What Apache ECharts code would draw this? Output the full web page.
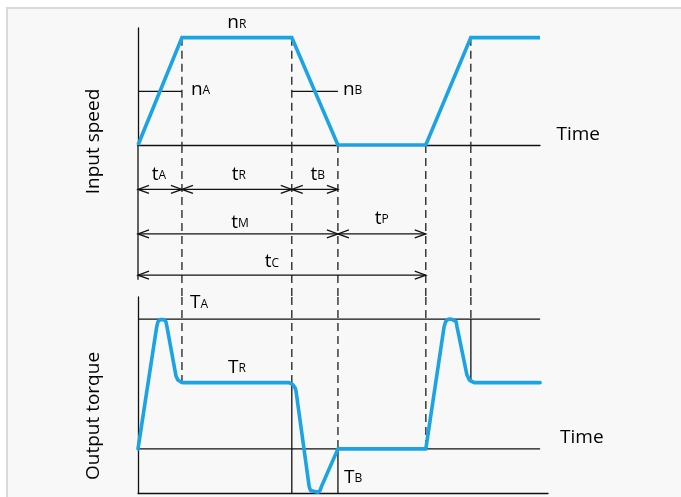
<!DOCTYPE html>
<html>
<head>
<meta charset="utf-8">
<script src="https://cdn.jsdelivr.net/npm/echarts@6/dist/echarts.min.js"></script>
<style>
html,body{margin:0;padding:0;background:#ffffff;}
#c{width:681px;height:497px;}
</style>
</head>
<body>
<div id="c"></div>
<script>
// ---------------- data ----------------
// input speed profile (time units, speed % of nR)
const speedTime  = [0, 2, 7, 9.1, 13.1, 15.15, 18.3];
const speedValue = [0, 100, 100, 0, 0, 100, 100];
const nA = 50, nB = 50;

// output torque profile (time units, torque % of TA)
const torqueTime  = [0, 0.85, 0.91, 1.0, 1.09, 1.18, 1.27, 1.32, 1.73, 1.82, 1.99, 2.1, 6.87, 7.03, 7.15, 7.19, 7.79, 7.85, 7.94, 8.19, 8.29, 8.35, 9.1, 13.1, 13.93, 14.0, 14.09, 14.2, 14.31, 14.48, 14.52, 14.97, 15.09, 15.3, 18.3];
const torqueValue = [0, 94, 98, 99.6, 100, 99.6, 98, 94, 56, 53, 51.2, 51, 51, 49.7, 47, 44.7, -29, -32, -33.5, -33.5, -32, -29, 0, 0, 94, 98, 99.6, 100, 99.6, 98, 94, 57, 53, 51, 51];
const TA = 100, TR = 51, TB = -34;

// time intervals (dimension arrows)
const dimMain  = ['t', 't', 't', 't', 't', 't'];
const dimSub   = ['A', 'R', 'B', 'M', 'P', 'C'];
const dimStart = [0, 2, 7, 0, 9.1, 0];
const dimEnd   = [2, 7, 9.1, 9.1, 13.1, 13.1];
const dimRow   = [1, 1, 1, 2, 2, 2.93];

// guide lines at phase boundaries
const guideTime = speedTime.slice(1, 6);
const guideTorqueDashTo  = [TR, TR, 0, 0, TA];
const guideTorqueSolidTo = [null, TB, TB, null, TR];

// axis ranges
const timeMax = 18.3, torqueTimeMax = 18.66;
const speedMax = 109;
const torqueMin = -34, torqueMax = 117;
const dimMax = 3.42, dimLeftEnd = 3.03;

// ---------------- style ----------------
const FONT = '"Open Sans", "Noto Sans", sans-serif';
const BLUE = '#1ba3e3', INK = '#111111', TXT = '#000000', DASHC = '#2e2e2e';
const MAIN = 19, SUB = 12, LW = 1.3, AL = 11, AH = 4, BASE_OFF = 2;

function seg(a, b, dashed) {
  return {type: 'line', silent: true,
    shape: {x1: a[0], y1: a[1], x2: b[0], y2: b[1]},
    style: {stroke: dashed ? DASHC : INK, lineWidth: dashed ? 1.4 : LW, lineDash: dashed ? [8, 5] : null}};
}
function poly(points) {
  return {type: 'polyline', silent: true, shape: {points: points},
    style: {stroke: INK, fill: null, lineWidth: LW}};
}
function txt(main, sub, x, baseline, align) {
  return {type: 'text', silent: true, style: {
    text: sub ? '{m|' + main + '}{s|' + sub + '}' : '{m|' + main + '}',
    x: x, y: baseline + BASE_OFF, align: align, verticalAlign: 'bottom', fill: TXT,
    rich: {
      m: {fontSize: MAIN, fontFamily: FONT, fill: TXT, verticalAlign: 'bottom'},
      s: {fontSize: SUB, fontFamily: FONT, fill: TXT, verticalAlign: 'bottom', padding: [0, 0, 2, 0]}
    }}};
}

function speedDecor(params, api) {
  const c = p => api.coord(p);
  const els = [];
  els.push(seg(c([0, nA]), c([speedTime[1], nA])));
  els.push(seg(c([speedTime[2], nB]), c([speedTime[3], nB])));
  for (let i = 1; i <= 5; i++) {
    if (speedValue[i] > 0) els.push(seg(c([speedTime[i], speedValue[i]]), c([speedTime[i], 0]), true));
  }
  const pR = c([(speedTime[1] + speedTime[2]) / 2, speedValue[1]]);
  els.push(txt('n', 'R', pR[0], pR[1] - 7.5, 'center'));
  const pA = c([speedTime[1], nA]);
  els.push(txt('n', 'A', pA[0] + 9, pA[1] + 5.5, 'left'));
  const pB = c([speedTime[3], nB]);
  els.push(txt('n', 'B', pB[0] + 5, pB[1] + 5.5, 'left'));
  const pT = c([speedTime[6], 0]);
  els.push(txt('Time', null, pT[0] + 16.5, pT[1] - 3, 'left'));
  return {type: 'group', children: els};
}

function dimDecor(params, api) {
  const c = p => api.coord(p);
  const els = [];
  els.push(seg(c([0, 0]), c([0, dimLeftEnd])));
  guideTime.forEach(t => els.push(seg(c([t, 0]), c([t, dimMax]), true)));
  for (let i = 0; i < dimStart.length; i++) {
    const a = c([dimStart[i], dimRow[i]]), b = c([dimEnd[i], dimRow[i]]);
    const y = a[1];
    els.push(seg(a, b));
    els.push(poly([[a[0] + AL, y - AH], [a[0], y], [a[0] + AL, y + AH]]));
    els.push(poly([[b[0] - AL, y - AH], [b[0], y], [b[0] - AL, y + AH]]));
    const mid = (a[0] + b[0]) / 2;
    const nudgeX = {A: -1, R: 2, B: 3, M: 2, P: 0, C: -10}[dimSub[i]];
    const nudgeY = {A: -7.5, R: -7.5, B: -7.5, M: -4, P: -8, C: -6}[dimSub[i]];
    els.push(txt(dimMain[i], dimSub[i], mid + nudgeX, y + nudgeY, 'center'));
  }
  return {type: 'group', children: els};
}

function torqueDecor(params, api) {
  const c = p => api.coord(p);
  const els = [];
  els.push(seg(c([0, TA]), c([timeMax, TA])));
  els.push(seg(c([0, 0]), c([timeMax, 0])));
  guideTime.forEach((t, i) => {
    els.push(seg(c([t, torqueMax]), c([t, guideTorqueDashTo[i]]), true));
    if (guideTorqueSolidTo[i] !== null) els.push(seg(c([t, guideTorqueDashTo[i]]), c([t, guideTorqueSolidTo[i]])));
  });
  const pA = c([guideTime[0], TA]);
  els.push(txt('T', 'A', pA[0] + 8, pA[1] - 8.5, 'left'));
  const pR = c([(guideTime[0] + guideTime[1]) / 2, TR]);
  els.push(txt('T', 'R', pR[0], pR[1] - 8, 'center'));
  const pB = c([guideTime[2], TB]);
  els.push(txt('T', 'B', pB[0] + 6, pB[1] - 8, 'left'));
  const pT = c([timeMax, 0]);
  els.push(txt('Time', null, pT[0] + 20, pT[1] - 4, 'left'));
  return {type: 'group', children: els};
}

const hiddenAxis = {axisTick: {show: false}, axisLabel: {show: false}, splitLine: {show: false}};
const inkLine = {show: true, lineStyle: {color: INK, width: LW}};

const option = {
  animation: false,
  backgroundColor: '#ffffff',
  graphic: [
    {type: 'rect', z: -10, silent: true, shape: {x: 7, y: 8, width: 700, height: 600},
      style: {fill: '#f8f8f8', stroke: '#d9d9d9', lineWidth: 2}},
    {type: 'text', x: 94, y: 141.5, rotation: Math.PI / 2, silent: true,
      style: {text: 'Input speed', font: MAIN + 'px ' + FONT, fill: TXT, align: 'center', verticalAlign: 'middle'}},
    {type: 'text', x: 94, y: 416, rotation: Math.PI / 2, silent: true,
      style: {text: 'Output torque', font: MAIN + 'px ' + FONT, fill: TXT, align: 'center', verticalAlign: 'middle'}}
  ],
  grid: [
    {left: 138, top: 28, width: 402, height: 117},
    {left: 138, top: 145, width: 402, height: 152},
    {left: 138, top: 297, width: 410, height: 196}
  ],
  xAxis: [
    Object.assign({gridIndex: 0, type: 'value', min: 0, max: timeMax, axisLine: inkLine}, hiddenAxis),
    Object.assign({gridIndex: 1, type: 'value', min: 0, max: timeMax, show: false}, hiddenAxis),
    Object.assign({gridIndex: 2, type: 'value', min: 0, max: torqueTimeMax,
      axisLine: {show: true, onZero: false, lineStyle: {color: INK, width: LW}}}, hiddenAxis)
  ],
  yAxis: [
    Object.assign({gridIndex: 0, type: 'value', min: 0, max: speedMax, axisLine: inkLine}, hiddenAxis),
    Object.assign({gridIndex: 1, type: 'value', min: 0, max: dimMax, inverse: true, show: false}, hiddenAxis),
    Object.assign({gridIndex: 2, type: 'value', min: torqueMin, max: torqueMax,
      axisLine: {show: true, onZero: false, lineStyle: {color: INK, width: LW}}}, hiddenAxis)
  ],
  series: [
    {type: 'custom', xAxisIndex: 0, yAxisIndex: 0, data: [[0, 0]], renderItem: speedDecor, clip: false, silent: true, z: 2},
    {type: 'custom', xAxisIndex: 1, yAxisIndex: 1, data: [[0, 0]], renderItem: dimDecor, clip: false, silent: true, z: 2},
    {type: 'custom', xAxisIndex: 2, yAxisIndex: 2, data: [[0, 0]], renderItem: torqueDecor, clip: false, silent: true, z: 2},
    {type: 'line', name: 'Input speed', xAxisIndex: 0, yAxisIndex: 0, z: 5,
      data: speedTime.map((t, i) => [t, speedValue[i]]),
      showSymbol: false, symbol: 'none', silent: true,
      lineStyle: {color: BLUE, width: 3.6, join: 'miter', cap: 'butt'}},
    {type: 'line', name: 'Output torque', xAxisIndex: 2, yAxisIndex: 2, z: 5,
      data: torqueTime.map((t, i) => [t, torqueValue[i]]),
      showSymbol: false, symbol: 'none', silent: true,
      lineStyle: {color: BLUE, width: 3.6, join: 'round', cap: 'round'}}
  ]
};

const chart = echarts.init(document.getElementById('c'), null, {renderer: 'canvas'});
chart.setOption(option);
</script>
</body>
</html>
